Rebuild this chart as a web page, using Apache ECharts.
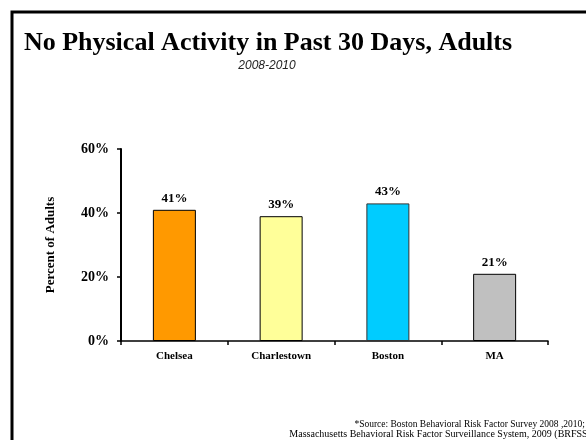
<!DOCTYPE html>
<html>
<head>
<meta charset="utf-8">
<script src="https://cdn.jsdelivr.net/npm/echarts@6/dist/echarts.min.js"></script>
<style>
html,body{margin:0;padding:0;background:#fff;}
#c{width:586px;height:440px;}
</style>
</head>
<body>
<div id="c"></div>
<script>
var categories = ['Chelsea', 'Charlestown', 'Boston', 'MA'];
var values = [41, 39, 43, 21];
var barColors = ['#FF9900', '#FFFF99', '#00CCFF', '#C0C0C0'];
var yTicks = [0, 20, 40, 60];
var titleText = 'No Physical Activity in Past 30 Days, Adults';
var subtitleText = '2008-2010';
var yAxisName = 'Percent of Adults';
var footnote1 = '*Source: Boston Behavioral Risk Factor Survey 2008 ,2010;';
var footnote2 = 'Massachusetts Behavioral Risk Factor Surveillance System, 2009 (BRFSS)';

var serif = '"Liberation Serif", "Times New Roman", serif';
var chart = echarts.init(document.getElementById('c'), null, {renderer: 'canvas'});
chart.setOption({
  backgroundColor: '#fff',
  animation: false,
  grid: {left: 121, right: 38, top: 149, bottom: 99, containLabel: false},
  xAxis: {
    type: 'category',
    data: categories,
    axisLine: {lineStyle: {color: '#000', width: 1.5}},
    axisTick: {show: true, length: 4, lineStyle: {color: '#000', width: 1.5}},
    axisLabel: {color: '#000', fontFamily: serif, fontWeight: 'bold', fontSize: 11, margin: 10}
  },
  yAxis: {
    type: 'value',
    min: yTicks[0],
    max: yTicks[yTicks.length - 1],
    interval: yTicks[1] - yTicks[0],
    name: yAxisName,
    nameLocation: 'middle',
    nameGap: 64,
    nameRotate: 90,
    nameTextStyle: {color: '#000', fontFamily: serif, fontWeight: 'bold', fontSize: 13},
    splitLine: {show: false},
    axisLine: {show: true, lineStyle: {color: '#000', width: 2}},
    axisTick: {show: true, length: 4, lineStyle: {color: '#000', width: 1.5}},
    axisLabel: {color: '#000', fontFamily: serif, fontWeight: 'bold', fontSize: 14, margin: 12, formatter: '{value}%'}
  },
  series: [{
    type: 'bar',
    barWidth: 43,
    data: values.map(function (v, i) {
      return {value: v, itemStyle: {color: barColors[i], borderColor: i === 2 ? '#333' : '#000', borderWidth: 1}};
    }),
    label: {show: true, position: 'top', distance: 5, color: '#000', fontFamily: serif, fontWeight: 'bold', fontSize: 13, formatter: '{c}%'}
  }],
  graphic: [
    {type: 'rect', shape: {x: 12, y: 12, width: 700, height: 600}, style: {fill: null, stroke: '#000', lineWidth: 3}, silent: true},
    {type: 'text', x: 268, y: 43, style: {text: titleText, fill: '#000', font: 'bold 26px ' + serif, textAlign: 'center', textVerticalAlign: 'middle'}},
    {type: 'text', x: 267, y: 66, style: {text: subtitleText, fill: '#222', font: 'italic 12px "Liberation Sans", Arial, sans-serif', textAlign: 'center', textVerticalAlign: 'middle'}},
    {type: 'text', x: 585, y: 424, style: {text: footnote1, fill: '#000', font: '9.5px ' + serif, textAlign: 'right', textVerticalAlign: 'middle'}},
    {type: 'text', x: 591, y: 434, style: {text: footnote2, fill: '#000', font: '10px ' + serif, textAlign: 'right', textVerticalAlign: 'middle'}}
  ]
});
</script>
</body>
</html>
